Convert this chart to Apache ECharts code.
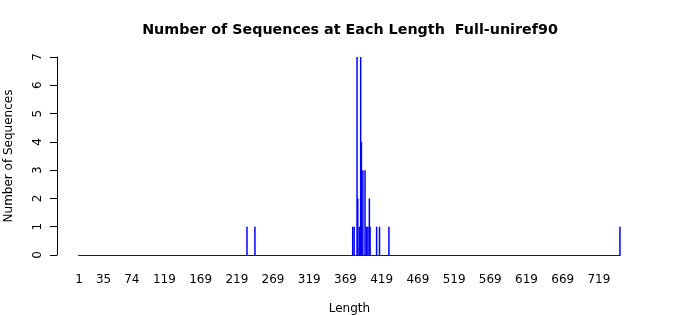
<!DOCTYPE html>
<html>
<head>
<meta charset="utf-8">
<script src="https://cdn.jsdelivr.net/npm/echarts@6/dist/echarts.min.js"></script>
<style>html,body{margin:0;padding:0;background:#fff}#c{width:700px;height:315px}</style>
</head>
<body>
<div id="c"></div>
<script>
var lengths = [233, 244, 379, 381, 385, 386, 388, 390, 391, 393, 396, 398, 400, 402, 403, 412, 416, 429, 748];
var counts  = [1,   1,   1,   1,   7,   2,   1,   7,   4,   3,   3,   1,   1,   2,   1,   1,   1,   1,   1];
var xTickLabels = [1, 35, 74, 119, 169, 219, 269, 319, 369, 419, 469, 519, 569, 619, 669, 719];
var yTicks = [0, 1, 2, 3, 4, 5, 6, 7];

var data = lengths.map(function (l, i) { return [l, counts[i]]; });
var font = 'DejaVu Sans';
var chart = echarts.init(document.getElementById('c'), null, {renderer: 'canvas'});
chart.setOption({
  animation: false,
  backgroundColor: '#ffffff',
  title: {
    text: 'Number of Sequences at Each Length  Full-uniref90',
    left: 'center', top: 18,
    textStyle: {fontFamily: font, fontSize: 14.3, fontWeight: 'bold', color: '#000'}
  },
  grid: {left: 78.6, top: 57, width: 541.7, height: 198, outerBoundsMode: 'none', containLabel: false},
  xAxis: {
    type: 'value', min: 0.5, max: 748.5,
    name: 'Length', nameLocation: 'middle', nameGap: 48,
    nameTextStyle: {fontFamily: font, fontSize: 12, color: '#000'},
    axisLine: {show: true, onZero: false, lineStyle: {color: '#0000ff', width: 1}},
    axisTick: {show: false},
    splitLine: {show: false},
    axisLabel: {customValues: xTickLabels, fontFamily: font, fontSize: 12, color: '#000', margin: 19}
  },
  yAxis: {
    type: 'value', min: 0, max: 7, interval: 1,
    offset: 21.6,
    name: 'Number of Sequences', nameLocation: 'middle', nameGap: 42, nameRotate: 90,
    nameTextStyle: {fontFamily: font, fontSize: 12, color: '#000'},
    axisLine: {show: true, lineStyle: {color: '#000', width: 1}},
    axisTick: {show: true, length: 7, lineStyle: {color: '#000'}},
    splitLine: {show: false},
    axisLabel: {rotate: 90, fontFamily: font, fontSize: 12, color: '#000', margin: 13,
      formatter: function (v) { return yTicks.indexOf(v) >= 0 ? String(v) : ''; }}
  },
  series: [{
    type: 'bar', data: data, barWidth: 1.5,
    itemStyle: {color: '#0000ff'}
  }]
});
</script>
</body>
</html>
